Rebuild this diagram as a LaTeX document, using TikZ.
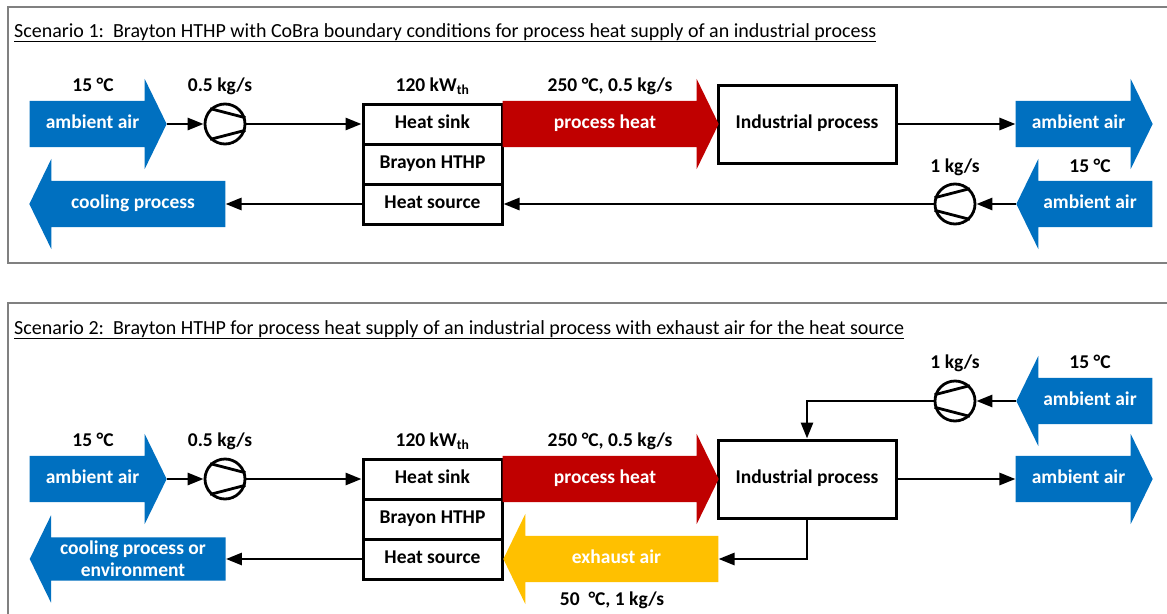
\documentclass[tikz,border=0pt]{standalone}
\usepackage{fontspec}
\setmainfont{Carlito}
\usetikzlibrary{arrows.meta,shapes.arrows}

\definecolor{airBlue}{HTML}{0070C0}
\definecolor{heatRed}{HTML}{C00000}
\definecolor{exhaustYellow}{HTML}{FFC000}
\definecolor{frameGray}{HTML}{808080}

\begin{document}
\begin{tikzpicture}
[x=1pt,y=-1pt,
  font=\fontsize{19.5}{22}\selectfont\bfseries,
  lineDecorate/.style={line width=2.8pt,-{Triangle[length=16pt,width=12pt]}},
  boxDecorate/.style={shape=rectangle,draw,line width=3pt,inner sep=0pt,
    text height=13pt,text depth=4pt},
  fanDecorate/.style={shape=circle,draw,line width=2.8pt,minimum size=40pt,inner sep=0pt},
  flowDecorate/.style={shape=single arrow,inner xsep=0pt,inner ysep=14.5pt,
    single arrow head extend=22pt,single arrow tip angle=128,text=white,
    text height=13pt,text depth=4pt},
  backDecorate/.style={shape border rotate=180},
  labelDecorate/.style={inner sep=0pt,anchor=base},
  titleDecorate/.style={anchor=base west,inner sep=0pt,font=\fontsize{20}{24}\selectfont\mdseries},
  frameDecorate/.style={draw=frameGray,line width=1.5pt}]

\useasboundingbox (0,0) rectangle (1167,613);
\clip (0,0) rectangle (1167,613);
\fill[white] (0,0) rectangle (1167,613);

%% frames and titles
\draw[frameDecorate] (8,7) rectangle (1190,263);
\draw[frameDecorate] (8,303) rectangle (1190,640);
\node (title1) at (14,37) [titleDecorate]
  {\underline{Scenario 1:\ \ Brayton HTHP with CoBra boundary conditions for process heat supply of an industrial process}};
\node (title2) at (14,334) [titleDecorate]
  {\underline{Scenario 2:\ \ Brayton HTHP for process heat supply of an industrial process with exhaust air for the heat source}};

%% heat pump blocks and process boxes
\foreach \nodename/\y/\txt in {
  sink1/124/Heat sink, core1/164/Brayon HTHP, src1/204/Heat source,
  sink2/479/Heat sink, core2/519/Brayon HTHP, src2/559/Heat source}
{
  \node (\nodename) at (432.5,\y) [boxDecorate,minimum width=139pt,minimum height=40pt] {\txt};
}
\foreach \nodename/\y in {ind1/124, ind2/479}
{
  \node (\nodename) at (807,\y) [boxDecorate,minimum width=178pt,minimum height=78pt] {Industrial process};
}

%% fans
\foreach \nodename/\x/\y in {fan1/225/124, fan2/955/204, fan3/225/479, fan4/955/401}
{
  \node (\nodename) at (\x,\y) [fanDecorate] {};
}
\foreach \nodename in {fan1, fan3}
  \draw[line width=2.8pt] (\nodename.17) -- (\nodename.134) (\nodename.-17) -- (\nodename.-134);
\foreach \nodename in {fan2, fan4}
  \draw[line width=2.8pt] (\nodename.163) -- (\nodename.46) (\nodename.-163) -- (\nodename.-46);

%% air and heat flows
\node (amb1in) at (92.5,124) [flowDecorate,fill=airBlue,minimum height=137pt] {ambient air};
\node (heat1) at (605,124) [flowDecorate,fill=heatRed,minimum height=216pt] {process heat};
\node (amb1out) at (1078.5,124) [flowDecorate,fill=airBlue,minimum height=137pt] {ambient air};
\node (amb1back) at (1090,204) [flowDecorate,backDecorate,fill=airBlue,minimum height=136pt] {ambient air};
\node (cool1) at (133,204) [flowDecorate,backDecorate,fill=airBlue,minimum height=196pt] {cooling process};

\node (amb2in) at (92.5,479) [flowDecorate,fill=airBlue,minimum height=137pt] {ambient air};
\node (heat2) at (605,479) [flowDecorate,fill=heatRed,minimum height=216pt] {process heat};
\node (amb2out) at (1078.5,479) [flowDecorate,fill=airBlue,minimum height=137pt] {ambient air};
\node (amb2back) at (1090,401) [flowDecorate,backDecorate,fill=airBlue,minimum height=136pt] {ambient air};
\node (exhaust2) at (616.5,559) [flowDecorate,backDecorate,fill=exhaustYellow,minimum height=215pt] {exhaust air};
\node (cool2) at (133,559) [flowDecorate,backDecorate,fill=airBlue,minimum height=196pt,
  text height={},text depth={},inner ysep=3.5pt,align=center] {cooling process or\\environment};

%% labels
\foreach \nodename/\x/\y/\txt in {
  temp1/93/91/15 °C, mass1/220/91/{0.5 kg/s}, power1/432.5/91/120 kW\textsubscript{th},
  state1/610/91/{250 °C, 0.5 kg/s}, mass2/955/172/{1 kg/s}, temp2/1090/172/15 °C,
  temp3/93/446/15 °C, mass3/220/446/{0.5 kg/s}, power2/432.5/446/120 kW\textsubscript{th},
  state2/610/446/{250 °C, 0.5 kg/s}, mass4/955/368/{1 kg/s}, temp4/1090/368/15 °C,
  state3/612/605/{50\ \ °C, 1 kg/s}}
{
  \node (\nodename) at (\x,\y) [labelDecorate] {\txt};
}

%% pipes
\path
\foreach \startnode/\endnode in {
  amb1in.tip/fan1, fan1/sink1, ind1/amb1out.tail, amb1back.tip/fan2, fan2/src1, src1/cool1.tail,
  amb2in.tip/fan3, fan3/sink2, ind2/amb2out.tail, amb2back.tip/fan4, src2/cool2.tail}
{
  (\startnode) edge[lineDecorate] (\endnode)
};
\draw[lineDecorate] (fan4) -| (ind2);
\draw[lineDecorate] (ind2) |- (exhaust2.tail);
\end{tikzpicture}
\end{document}
